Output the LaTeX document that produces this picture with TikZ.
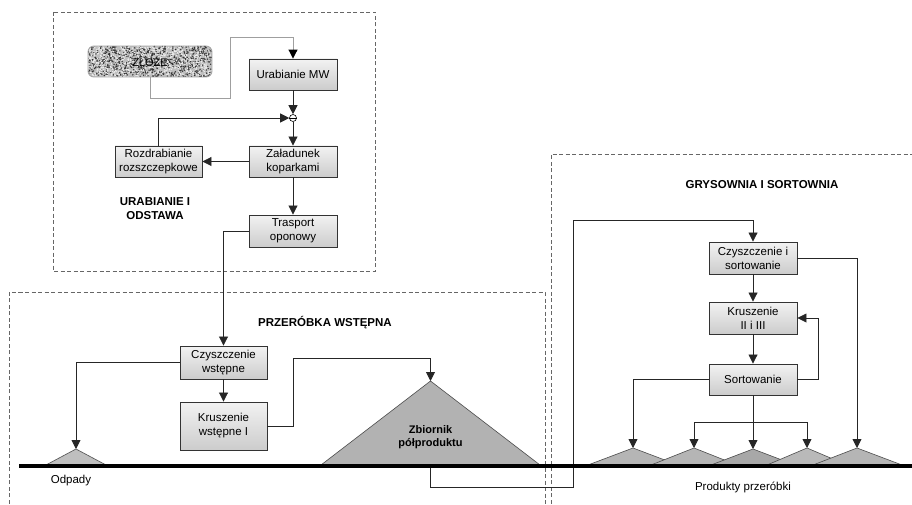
\documentclass[tikz,border=0pt]{standalone}
\usepackage{fontspec}
\setmainfont{Liberation Sans}
\usetikzlibrary{arrows.meta,calc}
\newcommand{\boxfont}{\fontsize{11.5}{14}\selectfont}
\newcommand{\hdrfont}{\fontsize{11.5}{14}\selectfont\bfseries}
\begin{document}
\begin{tikzpicture}[x=1pt,y=-1pt,
  box/.style={draw=black!80, line width=0.9pt, top color=gray!10, bottom color=gray!40,
    minimum width=88pt, minimum height=32pt, align=center, inner sep=1pt, font=\boxfont},
  conn/.style={draw=black!85, line width=0.85pt},
  arr/.style={conn, -{Triangle[length=9pt,width=9pt]}},
  grayconn/.style={draw=gray!75, line width=1pt, -{Triangle[length=9pt,width=9pt,color=black]}},
  frame/.style={draw=black!60, line width=0.9pt, dash pattern=on 4pt off 2.5pt},
  heap/.style={draw=black!70, line width=0.6pt, fill=gray!60},
  hdr/.style={font=\hdrfont, align=center},
  lbl/.style={font=\fontsize{11.5}{14}\selectfont}
]
\useasboundingbox[fill=white] (0,0) rectangle (912,505);

% dashed frames
\draw[frame] (53,12) rectangle (375,271);
\draw[frame] (9,510) -- (9,292) -- (545,292) -- (545,510);
\draw[frame] (551,510) -- (551,154) -- (915,154);

% ZLOZE granite texture
\begin{scope}
  \clip[rounded corners=6pt] (88,46) rectangle (212,77);
  \fill[gray!50] (88,46) rectangle (212,77);
  \pgfmathsetseed{11}
  \foreach \i in {1,...,900} {
    \fill[black!80] (88+rnd*124, 46+rnd*31) circle (0.8);
  }
  \foreach \i in {1,...,700} {
    \fill[white!85!gray] (88+rnd*124, 46+rnd*31) circle (0.8);
  }
\end{scope}
\node[draw=gray!70, line width=0.9pt, rounded corners=6pt, minimum width=124pt, minimum height=31pt,
  inner sep=0pt, font=\fontsize{11}{13}\selectfont, text=black] (zloze) at (150,61.5) {ZŁOŻE};

% process boxes
\node[box, minimum height=31pt] (urab) at (293,74.5) {Urabianie MW};
\node[draw, circle, fill=white, inner sep=0pt, minimum size=7pt, line width=0.6pt] (circ) at (293,118) {};
\node[box, minimum height=31pt] (zal) at (293,161.5) {Załadunek\\koparkami};
\node[box, minimum width=87pt, minimum height=31pt] (rozd) at (158.5,161.5) {Rozdrabianie\\rozszczepkowe};
\node[box] (tras) at (293,231) {Trasport\\oponowy};
\node[hdr] (h1) at (155,208.5) {URABIANIE I\\ODSTAWA};

\node[box, minimum width=87pt, minimum height=33pt] (czw) at (223.5,362.5) {Czyszczenie\\wstępne};
\node[box, minimum width=87pt, minimum height=48pt] (kw) at (223.5,426) {Kruszenie\\wstępne I};
\node[hdr] (h2) at (325,323) {PRZERÓBKA WSTĘPNA};

\node[box] (czs) at (753,258) {Czyszczenie i\\sortowanie};
\node[box] (kr) at (753,318) {Kruszenie\\II i III};
\node[box, minimum height=31pt] (sort) at (753,379.5) {Sortowanie};
\node[hdr] (h3) at (762,185) {GRYSOWNIA I SORTOWNIA};

% heaps
\coordinate (odp) at (76,449);
\coordinate (zb) at (430.5,381);
\coordinate (t1) at (633,448);
\coordinate (t2) at (694,448);
\coordinate (t3) at (753,449);
\coordinate (t4) at (807,448);
\coordinate (t5) at (857,448);
\draw[heap, fill=gray!50] (46,465) -- (odp) -- (106,465) -- cycle;
\draw[heap] (321,465) -- (zb) -- (540,465) -- cycle;
\draw[heap, fill=gray!58] (588,465) -- (t1) -- (678,465) -- cycle;
\draw[heap, fill=gray!58] (651,465) -- (t2) -- (737,465) -- cycle;
\draw[heap, fill=gray!68] (711,465) -- (t3) -- (795,465) -- cycle;
\draw[heap, fill=gray!55] (767,465) -- (t4) -- (847,465) -- cycle;
\draw[heap, fill=gray!58] (813,465) -- (t5) -- (902,465) -- cycle;
\node[font=\fontsize{11}{13}\selectfont\bfseries, align=center] (zbt) at (430.5,437.5) {Zbiornik\\półproduktu};

% connector under the ground line
\coordinate (zbb) at (430.5,466);
\draw[arr] (zbb) -- ++(0,21) -- ++(143,0) -- ++(0,-267) -| (czs.north);

% ground
\draw[line width=4pt, black] (19,466) -- (912,466);
\node[lbl] (odpl) at (71,481) {Odpady};
\node[lbl] (prl) at (743,487) {Produkty przeróbki};

% connectors top
\draw[grayconn] (zloze.south) -- ++(0,21.5) -- ++(80,0) -- ++(0,-61.5) -| (urab.north);
\draw[arr] (urab.south) -- (circ.north);
\draw[line width=0.6pt] (circ.west) -- (circ.east);
\draw[arr] (circ.south) -- (zal.north);
\draw[arr] (zal.west) -- (rozd.east);
\draw[arr] (rozd.north) |- (circ.west);
\draw[arr] (zal.south) -- (tras.north);
\draw[arr] (tras.west) -| (czw.north);

% connectors preliminary processing
\draw[arr] (czw.west) -| (odp);
\draw[arr] (czw.south) -- (kw.north);
\draw[arr] (kw.east) -- ++(26,0) -- ++(0,-68) -| (zb);

% connectors grysownia
\draw[arr] (czs.south) -- (kr.north);
\draw[arr] (kr.south) -- (sort.north);
\draw[arr] (sort.east) -- ++(21,0) |- (kr.east);
\draw[arr] (czs.east) -| (t5);
\draw[arr] (sort.west) -| (t1);
\draw[arr] (sort.south) -- (t3);
\coordinate (bj) at (753,422);
\draw[arr] (bj) -| (t2);
\draw[arr] (bj) -| (t4);
\end{tikzpicture}
\end{document}
